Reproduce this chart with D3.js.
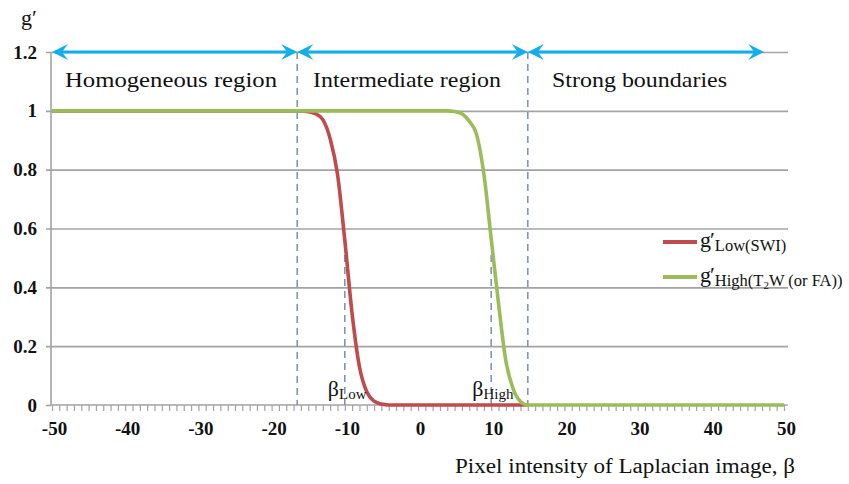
<!DOCTYPE html>
<html>
<head>
<meta charset="utf-8">
<script src="https://cdn.jsdelivr.net/npm/d3@7"></script>
<style>
  html, body { margin: 0; padding: 0; background: #fff; }
  svg { display: block; }
  svg text { font-family: "Liberation Serif", "Times New Roman", serif; }
</style>
</head>
<body>
<svg id="chart" width="849" height="484"></svg>
<script>
// Weighting functions g' plotted against Laplacian pixel intensity beta
const betaLow  = [-50, -16, -15, -14, -13, -12, -11, -10, -9, -8, -7, -6, -5, -4, 15];
const gLow     = [1, 1, 0.997, 0.99, 0.97, 0.905, 0.785, 0.56, 0.31, 0.13, 0.045, 0.013, 0.003, 0, 0];
const betaHigh = [-50, 4, 5, 6, 7, 8, 9, 10, 11, 12, 13, 14, 15, 50];
const gHigh    = [1, 1, 0.998, 0.99, 0.965, 0.92, 0.785, 0.565, 0.345, 0.15, 0.055, 0.012, 0, 0];

const yTicks = [0, 0.2, 0.4, 0.6, 0.8, 1, 1.2];
const yTickLabels = ["0", "0.2", "0.4", "0.6", "0.8", "1", "1.2"];
const xMajorTicks = [-50, -40, -30, -20, -10, 0, 10, 20, 30, 40, 50];

// region boundaries and arrow spans
const boundaries = [-16.5, 15];
const regionNames = ["Homogeneous region", "Intermediate region", "Strong boundaries"];
const regionSpans = [[-50, -16.5], [-16.5, 15], [15, 47.3]];
const betaMarks = [-10, 10];
const betaMarkTop = 0.51;

const svg = d3.select("#chart");
const x = d3.scaleLinear().domain([-50, 50]).range([52, 784]);
const y = d3.scaleLinear().domain([0, 1.2]).range([405, 52]);

const serif = "Liberation Serif, Times New Roman, serif";
const gridColor = "#a3a3a3";
const axisX0 = 51, gridRight = 788;

function serifText(sel, size, weight) {
  return sel.attr("font-family", null)
    .style("font-family", serif)
    .style("font-size", size + "px")
    .style("font-weight", weight || "normal")
    .attr("fill", "#111");
}

// horizontal gridlines and y-axis ticks
const yAxis = d3.axisLeft(y)
  .tickValues(yTicks)
  .tickFormat((d, i) => yTickLabels[i])
  .tickSize(0)
  .tickPadding(14);
const gy = svg.append("g").attr("transform", `translate(${axisX0},0)`).call(yAxis)
  .attr("font-family", null).attr("font-size", null);
gy.select(".domain").remove();
gy.selectAll(".tick line")
  .attr("x1", -5).attr("x2", d => d === 0 ? 0 : gridRight - axisX0)
  .attr("stroke", gridColor).attr("stroke-width", 1.6);
serifText(gy.selectAll(".tick text"), 19, "bold");

// y-axis line
svg.append("line")
  .attr("x1", axisX0).attr("x2", axisX0)
  .attr("y1", y(1.2)).attr("y2", y(0))
  .attr("stroke", gridColor).attr("stroke-width", 1.6);

// x-axis with a minor tick at every integer
const xAxis = d3.axisBottom(x)
  .tickValues(d3.range(-50, 51, 1))
  .tickFormat(d => xMajorTicks.includes(d) ? String(d) : "")
  .tickSizeInner(6).tickSizeOuter(0).tickPadding(11);
const gx = svg.append("g").attr("transform", `translate(0,${y(0)})`).call(xAxis)
  .attr("font-family", null).attr("font-size", null);
gx.select(".domain").attr("d", `M${axisX0},0H${gridRight}`)
  .attr("stroke", gridColor).attr("stroke-width", 1.6);
gx.selectAll(".tick line").attr("stroke", gridColor).attr("stroke-width", 1.2);
serifText(gx.selectAll(".tick text"), 19, "bold").attr("dx", 2);

// dashed boundaries
const dashColor = "#7f95b8";
svg.append("g").selectAll("line").data(boundaries).join("line")
  .attr("x1", d => x(d)).attr("x2", d => x(d))
  .attr("y1", y(1.2)).attr("y2", y(0))
  .attr("stroke", dashColor).attr("stroke-width", 1.6).attr("stroke-dasharray", "7,5");
svg.append("g").selectAll("line").data(betaMarks).join("line")
  .attr("x1", d => x(d)).attr("x2", d => x(d))
  .attr("y1", y(betaMarkTop)).attr("y2", y(0))
  .attr("stroke", dashColor).attr("stroke-width", 1.6).attr("stroke-dasharray", "7,5");

// curves
const line = d3.line().x(d => x(d[0])).y(d => y(d[1])).curve(d3.curveMonotoneX);
const lowPts = betaLow.map((b, i) => [b, gLow[i]]);
const highPts = betaHigh.map((b, i) => [b, gHigh[i]]);
const redColor = "#bf4b4d", greenColor = "#9cbb5a";
svg.append("path").attr("d", line(lowPts)).attr("fill", "none")
  .attr("stroke", redColor).attr("stroke-width", 3.6).attr("stroke-linejoin", "round");
svg.append("path").attr("d", line(highPts)).attr("fill", "none")
  .attr("stroke", greenColor).attr("stroke-width", 3.6).attr("stroke-linejoin", "round");

// region arrows along the top
const arrowColor = "#12aeea";
const arrowY = y(1.2);
function head(tx, dir) {
  return `M${tx},${arrowY}L${tx - dir * 16},${arrowY - 8}L${tx - dir * 10},${arrowY}L${tx - dir * 16},${arrowY + 8}Z`;
}
const ga = svg.append("g");
regionSpans.forEach(([a, b]) => {
  const xa = x(a), xb = x(b);
  ga.append("line").attr("x1", xa + 10).attr("x2", xb - 10)
    .attr("y1", arrowY).attr("y2", arrowY)
    .attr("stroke", arrowColor).attr("stroke-width", 3);
  ga.append("path").attr("d", head(xa, -1)).attr("fill", arrowColor);
  ga.append("path").attr("d", head(xb, 1)).attr("fill", arrowColor);
});

// region names
const regionLabelX = [65, 313, 552];
const regionLabelW = [212, 188, 175];
serifText(svg.append("g").selectAll("text").data(regionNames).join("text"), 21)
  .attr("x", (d, i) => regionLabelX[i]).attr("y", 87)
  .attr("textLength", (d, i) => regionLabelW[i]).attr("lengthAdjust", "spacingAndGlyphs")
  .text(d => d);

// axis titles
serifText(svg.append("text"), 22).attr("x", 21).attr("y", 25).text("g′");
serifText(svg.append("text"), 20).attr("x", 455).attr("y", 473)
  .attr("textLength", 340).attr("lengthAdjust", "spacingAndGlyphs")
  .text("Pixel intensity of Laplacian image, β");

// beta markers
function betaLabel(bx, sub) {
  const t = serifText(svg.append("text"), 22).attr("x", bx).attr("y", 396);
  t.append("tspan").text("β");
  t.append("tspan").style("font-size", "15px").attr("dy", 3).text(sub);
}
betaLabel(x(betaMarks[0]) - 17, "Low");
betaLabel(x(betaMarks[1]) - 19, "High");

// legend: g with a prime, then the subscript
const legend = svg.append("g");
const legendRows = [
  { color: redColor, y: 242, parts: [["Low(SWI)", 0]] },
  { color: greenColor, y: 277, parts: [["High(T", 0], ["2", 3], ["W (or FA))", -3]] }
];
legendRows.forEach(r => {
  legend.append("line").attr("x1", 663).attr("x2", 697).attr("y1", r.y).attr("y2", r.y)
    .attr("stroke", r.color).attr("stroke-width", 4);
  const t = serifText(legend.append("text"), 22).attr("x", 700).attr("y", r.y + 5);
  t.append("tspan").text("g");
  t.append("tspan").attr("dx", -1).text("′");
  r.parts.forEach(([s, dy], i) => {
    t.append("tspan")
      .attr("dy", (i === 0 ? 4 : 0) + dy)
      .style("font-size", s === "2" ? "11px" : "16.5px").text(s);
  });
});
</script>
</body>
</html>
